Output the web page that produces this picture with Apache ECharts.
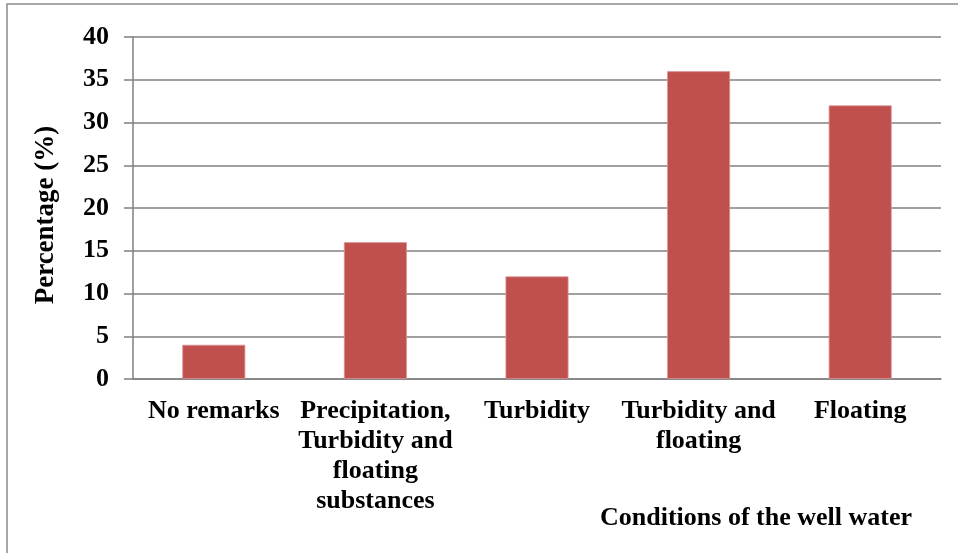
<!DOCTYPE html>
<html>
<head>
<meta charset="utf-8">
<script src="https://cdn.jsdelivr.net/npm/echarts@6/dist/echarts.min.js"></script>
<style>
  html, body { margin: 0; padding: 0; background: #fff; }
  #chart { width: 958px; height: 553px; }
</style>
</head>
<body>
<div id="chart"></div>
<script>
// Well-water condition categories (line breaks as shown under each bar)
const categories = [
  'No remarks',
  'Precipitation,\nTurbidity and\nfloating\nsubstances',
  'Turbidity',
  'Turbidity and\nfloating',
  'Floating'
];
// Share of wells in each condition, in percent
const percentages = [4, 16, 12, 36, 32];
// Y axis range and step
const yMin = 0, yMax = 40, yStep = 5;

const serif = '"Liberation Serif", "Times New Roman", serif';
const chart = echarts.init(document.getElementById('chart'));

chart.setOption({
  animation: false,
  backgroundColor: '#ffffff',
  grid: { left: 133, right: 17, top: 37, bottom: 174, containLabel: false },
  xAxis: {
    type: 'category',
    data: categories,
    axisLine: { lineStyle: { color: '#808080', width: 1.5 } },
    axisTick: { show: false },
    axisLabel: {
      interval: 0,
      margin: 17,
      color: '#000',
      fontFamily: serif,
      fontWeight: 'bold',
      fontSize: 26,
      lineHeight: 30,
      align: 'center'
    }
  },
  yAxis: {
    type: 'value',
    min: yMin, max: yMax, interval: yStep,
    name: 'Percentage (%)',
    nameLocation: 'middle',
    nameRotate: 90,
    nameGap: 73,
    nameTextStyle: {
      color: '#000', fontFamily: serif, fontWeight: 'bold', fontSize: 27,
      padding: [0, 14, 0, 0]
    },
    axisLine: { show: true, lineStyle: { color: '#808080', width: 1.5 } },
    axisTick: { show: true, length: 9, lineStyle: { color: '#808080', width: 1.5 } },
    axisLabel: {
      margin: 24,
      color: '#000', fontFamily: serif, fontWeight: 'bold', fontSize: 26
    },
    splitLine: { show: true, lineStyle: { color: '#808080', width: 1.5 } }
  },
  series: [{
    type: 'bar',
    data: percentages,
    barWidth: 63,
    itemStyle: { color: '#C0504D', borderColor: '#D99694', borderWidth: 0.8 }
  }],
  graphic: [
    {
      type: 'rect',
      shape: { x: 7, y: 4, width: 960, height: 560 },
      style: { fill: 'none', stroke: '#8c8c8c', lineWidth: 1.5 },
      silent: true
    },
    {
      type: 'text',
      left: 600, top: 505,
      style: {
        text: 'Conditions of the well water',
        fill: '#000',
        font: 'bold 26px ' + serif
      }
    }
  ]
});
</script>
</body>
</html>
